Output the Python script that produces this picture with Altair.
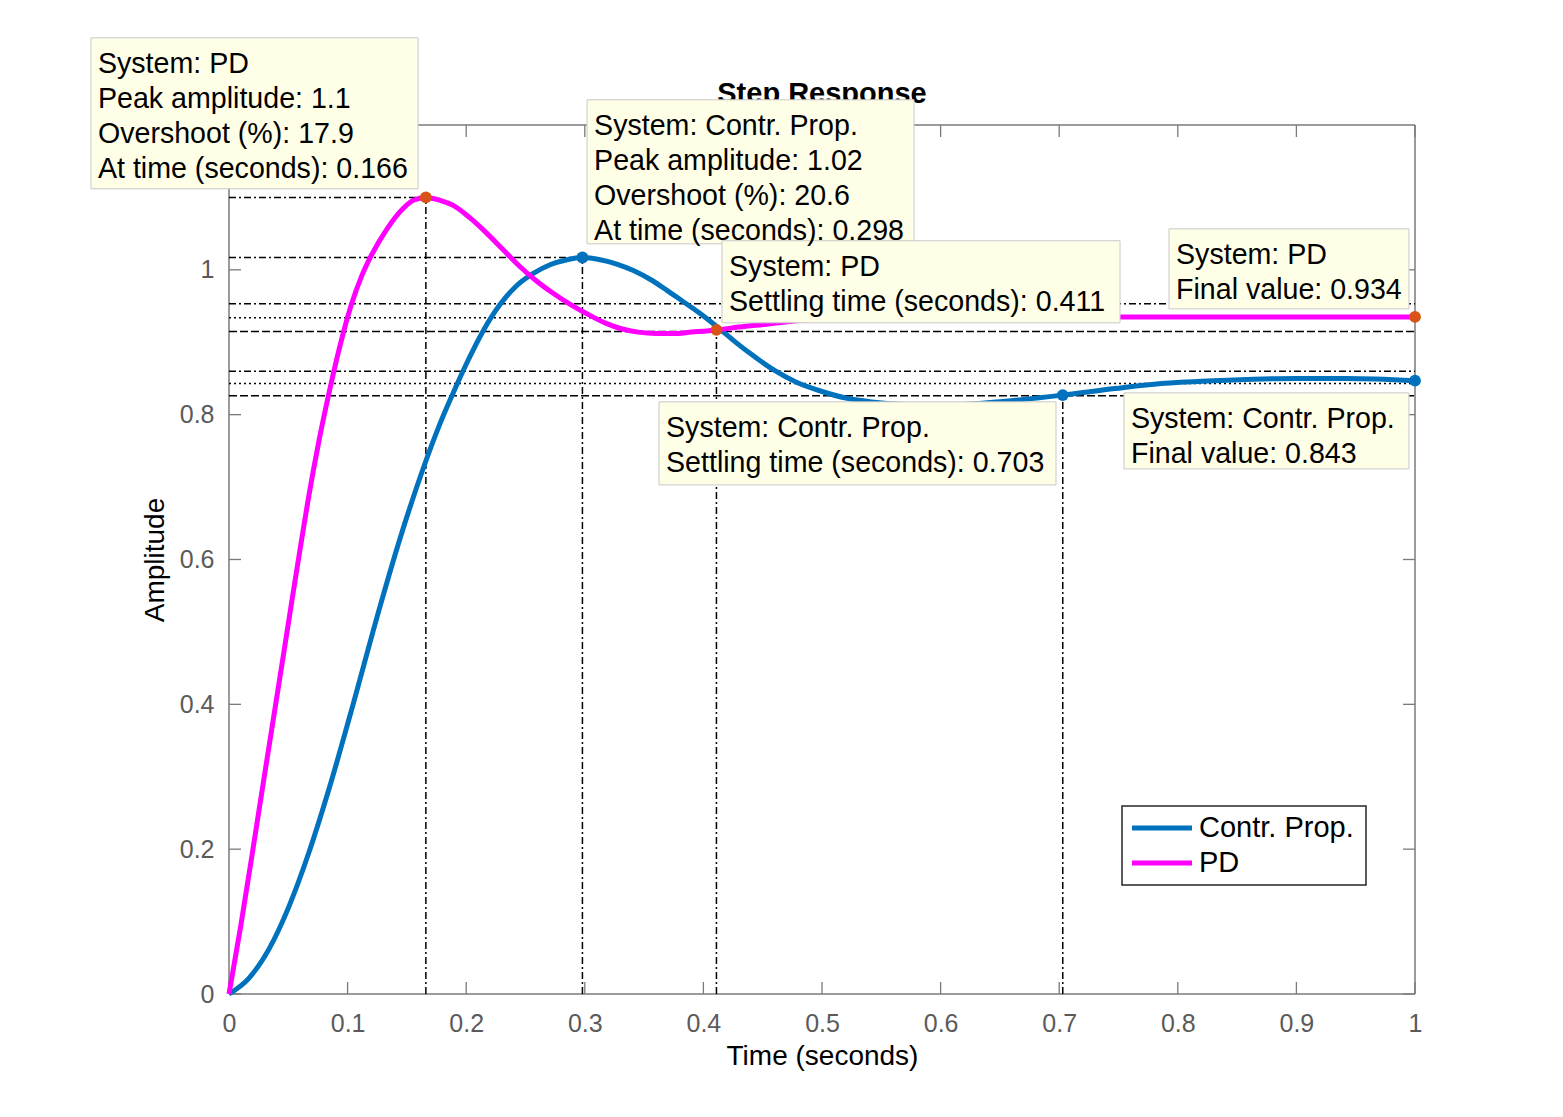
import altair as alt
import pandas as pd

FONT = "Liberation Sans"
W, H = 1186, 869

# ---- step response curves ----
pd_t = [0, 0.010, 0.020, 0.030, 0.0408, 0.0514, 0.0599, 0.0669, 0.076, 0.0838, 0.088,
        0.0964, 0.1034, 0.112, 0.120, 0.133, 0.147, 0.1554, 0.166, 0.178, 0.189, 0.203,
        0.217, 0.231, 0.245, 0.259, 0.273, 0.287, 0.301, 0.318, 0.330, 0.345, 0.360,
        0.375, 0.390, 0.411, 0.430, 0.453, 0.475, 0.500, 0.530, 0.560, 0.600, 0.650,
        0.700, 0.800, 0.900, 1.000]
pd_v = [0, 0.095, 0.198, 0.303, 0.415, 0.526, 0.614, 0.684, 0.765, 0.826, 0.857,
        0.913, 0.953, 0.992, 1.020, 1.056, 1.085, 1.096, 1.100, 1.096, 1.089, 1.072,
        1.051, 1.028, 1.005, 0.985, 0.968, 0.953, 0.940, 0.926, 0.919, 0.914, 0.912,
        0.912, 0.914, 0.917, 0.921, 0.925, 0.929, 0.932, 0.934, 0.935, 0.935, 0.935,
        0.935, 0.935, 0.935, 0.935]

cp_t = [0, 0.0169, 0.0337, 0.0506, 0.0675, 0.0843, 0.1026, 0.1273, 0.1442, 0.1638,
        0.178, 0.189, 0.2004, 0.2144, 0.2285, 0.2425, 0.2566, 0.2707, 0.285, 0.298,
        0.313, 0.327, 0.341, 0.355, 0.369, 0.383, 0.397, 0.411, 0.425, 0.439, 0.460,
        0.478, 0.500, 0.520, 0.540, 0.570, 0.600, 0.650, 0.703, 0.747, 0.786, 0.830,
        0.864, 0.900, 0.942, 1.000]
cp_v = [0, 0.022, 0.062, 0.121, 0.196, 0.283, 0.388, 0.535, 0.629, 0.726,
        0.788, 0.830, 0.871, 0.916, 0.952, 0.978, 0.995, 1.007, 1.014, 1.017,
        1.014, 1.008, 0.999, 0.987, 0.972, 0.956, 0.940, 0.922, 0.903, 0.885, 0.861,
        0.845, 0.832, 0.823, 0.818, 0.814, 0.813, 0.818, 0.827, 0.836, 0.843, 0.847,
        0.849, 0.850, 0.850, 0.847]

series_names = ["Contr. Prop.", "PD"]
series_colors = ["#0072BD", "#FF00FF"]
marker_colors = ["#0072BD", "#D95319"]

# ---- characteristic points ----
pt_series = ["PD", "Contr. Prop.", "PD", "Contr. Prop.", "PD", "Contr. Prop."]
pt_kind = ["peak", "peak", "settle", "settle", "final", "final"]
pt_t = [0.166, 0.298, 0.411, 0.703, 1.0, 1.0]
pt_v = [1.100, 1.017, 0.917, 0.827, 0.935, 0.847]

# settling bands (upper, final, lower)
band_upper = [0.953, 0.860]
band_final = [0.934, 0.843]
band_lower = [0.915, 0.826]

xticks = [0, 0.1, 0.2, 0.3, 0.4, 0.5, 0.6, 0.7, 0.8, 0.9, 1]
yticks = [0, 0.2, 0.4, 0.6, 0.8, 1]

# ---- data tips ----
tip_text = [
    "System: PD\nPeak amplitude: 1.1\nOvershoot (%): 17.9\nAt time (seconds): 0.166",
    "System: Contr. Prop.\nPeak amplitude: 1.02\nOvershoot (%): 20.6\nAt time (seconds): 0.298",
    "System: PD\nSettling time (seconds): 0.411",
    "System: PD\nFinal value: 0.934",
    "System: Contr. Prop.\nSettling time (seconds): 0.703",
    "System: Contr. Prop.\nFinal value: 0.843",
]
# box layout in data units (left, right, top, bottom)
tip_left = [-0.1164, 0.3019, 0.4157, 0.7926, 0.3626, 0.7546]
tip_right = [0.1594, 0.5776, 0.7513, 0.9949, 0.6973, 0.9949]
tip_top = [1.3204, 1.2348, 1.0401, 1.0566, 0.8177, 0.8301]
tip_bottom = [1.1119, 1.0359, 0.9268, 0.9461, 0.7030, 0.7251]

# ---- tables ----
curves = pd.concat([
    pd.DataFrame({"t": cp_t, "v": cp_v, "series": "Contr. Prop."}),
    pd.DataFrame({"t": pd_t, "v": pd_v, "series": "PD"}),
])
points = pd.DataFrame({"t": pt_t, "v": pt_v, "series": pt_series, "kind": pt_kind})
points["mcolor"] = [marker_colors[series_names.index(s)] for s in pt_series]
tips = pd.DataFrame({"text": tip_text, "x0": tip_left, "x1": tip_right,
                     "y0": tip_top, "y1": tip_bottom})

peaks = points[points.kind == "peak"].copy()
peaks["t0"] = 0.0
vlines = points[points.kind != "final"].copy()
vlines["v0"] = 0.0
bands_dd = pd.DataFrame({"v": band_upper, "t0": 0.0, "t1": 1.0})
bands_dot = pd.DataFrame({"v": band_final, "t0": 0.0, "t1": 1.0})
bands_da = pd.DataFrame({"v": band_lower, "t0": 0.0, "t1": 1.0})

xs = alt.Scale(domain=[0, 1], nice=False, zero=False)
ys = alt.Scale(domain=[0, 1.2], nice=False, zero=False)

X = alt.X("t:Q", scale=xs, axis=alt.Axis(values=xticks, format="~g", title="Time (seconds)",
                                         labelPadding=17, titlePadding=6, labelFlush=False))
Y = alt.Y("v:Q", scale=ys, axis=alt.Axis(values=yticks, format="~g", title="Amplitude",
                                         labelPadding=15, titlePadding=10, labelFlush=False))

one = pd.DataFrame({"k": [0]})
FRAME = "#7a7a7a"
frame = alt.layer(
    alt.Chart(one).mark_rule(color=FRAME, strokeWidth=1.5).encode(x=alt.value(0), x2=alt.value(W), y=alt.value(0)),
    alt.Chart(one).mark_rule(color=FRAME, strokeWidth=1.5).encode(x=alt.value(0), x2=alt.value(W), y=alt.value(H)),
    alt.Chart(one).mark_rule(color=FRAME, strokeWidth=1.5).encode(y=alt.value(0), y2=alt.value(H), x=alt.value(0)),
    alt.Chart(one).mark_rule(color=FRAME, strokeWidth=1.5).encode(y=alt.value(0), y2=alt.value(H), x=alt.value(W)),
)

xt = pd.DataFrame({"t": xticks})
yt = pd.DataFrame({"v": yticks})
TL = 12
ticks = alt.layer(
    alt.Chart(xt).mark_rule(color=FRAME, strokeWidth=1.3).encode(x=X, y=alt.value(H), y2=alt.value(H - TL)),
    alt.Chart(xt).mark_rule(color=FRAME, strokeWidth=1.3).encode(x=X, y=alt.value(0), y2=alt.value(TL)),
    alt.Chart(yt).mark_rule(color=FRAME, strokeWidth=1.3).encode(y=Y, x=alt.value(0), x2=alt.value(TL)),
    alt.Chart(yt).mark_rule(color=FRAME, strokeWidth=1.3).encode(y=Y, x=alt.value(W), x2=alt.value(W - TL)),
)

DD = [7, 3, 2, 3]
RW = 1.5
refl = alt.layer(
    alt.Chart(peaks).mark_rule(color="black", strokeWidth=RW, strokeDash=DD).encode(
        x=alt.X("t0:Q", scale=xs), x2="t:Q", y=alt.Y("v:Q", scale=ys)),
    alt.Chart(vlines).mark_rule(color="black", strokeWidth=RW, strokeDash=DD).encode(
        x=alt.X("t:Q", scale=xs), y=alt.Y("v0:Q", scale=ys), y2="v:Q"),
    alt.Chart(bands_dd).mark_rule(color="black", strokeWidth=RW, strokeDash=DD).encode(
        x=alt.X("t0:Q", scale=xs), x2="t1:Q", y=alt.Y("v:Q", scale=ys)),
    alt.Chart(bands_dot).mark_rule(color="black", strokeWidth=RW, strokeDash=[2, 3]).encode(
        x=alt.X("t0:Q", scale=xs), x2="t1:Q", y=alt.Y("v:Q", scale=ys)),
    alt.Chart(bands_da).mark_rule(color="black", strokeWidth=RW, strokeDash=[8, 3]).encode(
        x=alt.X("t0:Q", scale=xs), x2="t1:Q", y=alt.Y("v:Q", scale=ys)),
)

lines = alt.Chart(curves).mark_line(strokeWidth=5, interpolate="monotone").encode(
    x=X, y=Y,
    color=alt.Color("series:N",
                    scale=alt.Scale(domain=series_names, range=series_colors),
                    legend=None),
    order=alt.Order("t:Q"),
)

markers = alt.Chart(points).mark_circle(size=140, opacity=1).encode(
    x=alt.X("t:Q", scale=xs), y=alt.Y("v:Q", scale=ys),
    color=alt.Color("mcolor:N", scale=None),
)

title = alt.Chart(pd.DataFrame({"title": ["Step Response"]})).mark_text(
    font=FONT, fontSize=29, fontWeight="bold", align="center", baseline="middle", color="black"
).encode(x=alt.value(W / 2), y=alt.value(-31), text="title:N")

tip_boxes = alt.Chart(tips).mark_rect(fill="#FFFFE8", stroke="#C8C8C8", strokeWidth=1).encode(
    x=alt.X("x0:Q", scale=xs), x2="x1:Q", y=alt.Y("y0:Q", scale=ys), y2="y1:Q")
tip_texts = alt.Chart(tips).mark_text(
    font=FONT, fontSize=28.6, align="left", baseline="top", lineBreak="\n", lineHeight=35,
    dx=7, dy=12, color="black"
).encode(x=alt.X("x0:Q", scale=xs), y=alt.Y("y0:Q", scale=ys), text="text:N")

# ---- legend (drawn as marks, MATLAB style) ----
LX, LY, LW, LH = 893, 681, 244, 79
legend_parts = [alt.Chart(one).mark_rect(fill="white", stroke="#262626", strokeWidth=1.5).encode(
    x=alt.value(LX), x2=alt.value(LX + LW), y=alt.value(LY), y2=alt.value(LY + LH))]
for i, name in enumerate(series_names):
    row_y = LY + 22 + 35 * i
    ent = pd.DataFrame({"series": [name]})
    legend_parts.append(alt.Chart(ent).mark_rule(strokeWidth=5, color=series_colors[i]).encode(
        x=alt.value(LX + 10), x2=alt.value(LX + 70), y=alt.value(row_y)))
    legend_parts.append(alt.Chart(ent).mark_text(
        font=FONT, fontSize=29, align="left", baseline="middle", color="black").encode(
        x=alt.value(LX + 77), y=alt.value(row_y), text="series:N"))
legend = alt.layer(*legend_parts)

chart = alt.layer(frame, ticks, refl, lines, markers, title, tip_boxes, tip_texts, legend).properties(
    width=W, height=H,
    autosize=alt.AutoSizeParams(type="none"),
    padding={"left": 221, "top": 117, "right": 140, "bottom": 115},
).configure_view(strokeWidth=0).configure_axis(
    domain=False, ticks=False, grid=False,
    labelFont=FONT, labelFontSize=25, labelColor="#5a5a5a",
    titleFont=FONT, titleFontSize=28, titleColor="black", titleFontWeight="normal",
)

chart.save("out.html", embed_options={"renderer": "svg", "actions": False})
